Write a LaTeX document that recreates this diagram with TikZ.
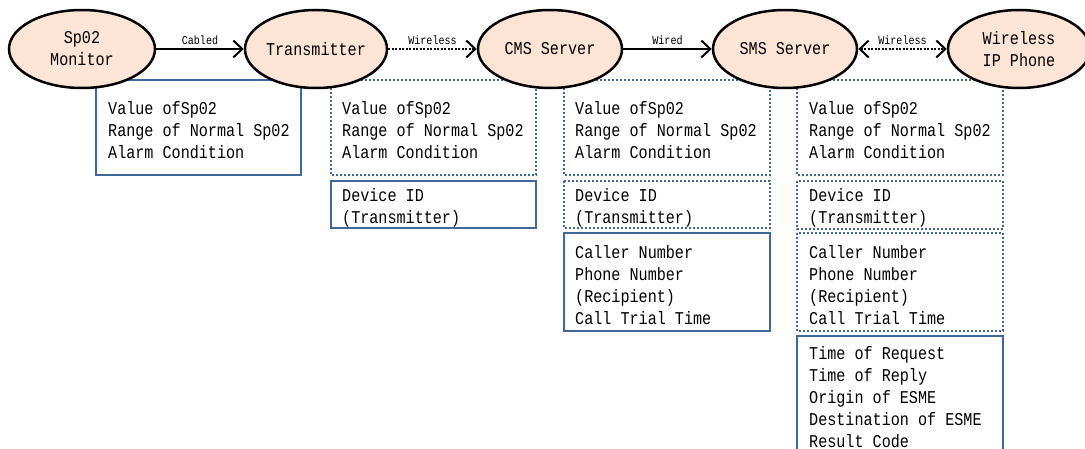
\documentclass[tikz,border=0pt]{standalone}
\usepackage{fontspec}
\setmonofont[FakeStretch=0.84]{Liberation Mono}
\usetikzlibrary{arrows.meta,shapes.geometric}
\definecolor{peach}{HTML}{FCE4D6}
\definecolor{boxblue}{HTML}{41689A}
\tikzset{
  barbtip/.tip={Straight Barb[length=9pt,width=17pt,line width=2pt]},
  ell/.style={ellipse, draw=black, line width=2.5pt, fill=peach, inner sep=0pt,
              minimum width=#1, minimum height=78pt, align=center,
              font=\ttfamily\fontsize{18}{22}\selectfont},
  solidbox/.style={draw=boxblue, line width=2pt},
  dotbox/.style={draw=boxblue, line width=2pt, dash pattern=on 2pt off 2pt},
  txt/.style={anchor=base west, inner sep=0pt, align=left,
              font=\ttfamily\fontsize{18}{22}\selectfont},
  link/.style={line width=2.5pt, -barbtip},
  twolink/.style={line width=2.5pt, barbtip-barbtip},
  dotlink/.style={dash pattern=on 2pt off 1.5pt},
  lbl/.style={above, inner sep=3pt, font=\ttfamily\fontsize{12}{14}\selectfont}
}
\begin{document}
\begin{tikzpicture}[x=1pt, y=-1pt]
\useasboundingbox (0,0) rectangle (1085,449);

% data boxes under each device
\draw[solidbox] (96,80) rectangle (301,175) coordinate (b1);
\draw[dotbox]   (331,80) rectangle (536,175) coordinate (b2a);
\draw[solidbox] (331,181) rectangle (536,228) coordinate (b2b);
\draw[dotbox]   (564,80) rectangle (770,175) coordinate (b3a);
\draw[dotbox]   (564,181) rectangle (770,228) coordinate (b3b);
\draw[solidbox] (564,233) rectangle (770,331) coordinate (b3c);
\draw[dotbox]   (797,80) rectangle (1003,175) coordinate (b4a);
\draw[dotbox]   (797,181) rectangle (1003,229) coordinate (b4b);
\draw[dotbox]   (797,233) rectangle (1003,331) coordinate (b4c);
\draw[solidbox] (797,336) rectangle (1003,470) coordinate (b4d);

% box contents (anchored at the baseline of the last line)
\node[txt] (t1)  at (108,159) {Value ofSp02\\Range of Normal Sp02\\Alarm Condition};
\node[txt] (t2a) at (342,159) {Value ofSp02\\Range of Normal Sp02\\Alarm Condition};
\node[txt] (t2b) at (342,224) {Device ID\\(Transmitter)};
\node[txt] (t3a) at (575,159) {Value ofSp02\\Range of Normal Sp02\\Alarm Condition};
\node[txt] (t3b) at (575,224) {Device ID\\(Transmitter)};
\node[txt] (t3c) at (575,324) {Caller Number\\Phone Number\\(Recipient)\\Call Trial Time};
\node[txt] (t4a) at (809,159) {Value ofSp02\\Range of Normal Sp02\\Alarm Condition};
\node[txt] (t4b) at (809,224) {Device ID\\(Transmitter)};
\node[txt] (t4c) at (809,324) {Caller Number\\Phone Number\\(Recipient)\\Call Trial Time};
\node[txt] (t4d) at (809,447) {Time of Request\\Time of Reply\\Origin of ESME\\Destination of ESME\\Result Code};

% devices
\node[ell=146pt] (mon) at (82,49)   {Sp02\\Monitor};
\node[ell=142pt] (tx)  at (316,49)  {Transmitter};
\node[ell=144pt] (cms) at (550,49)  {CMS Server};
\node[ell=144pt] (sms) at (785,49)  {SMS Server};
\node[ell=142pt] (ph)  at (1019,49) {Wireless\\IP Phone};

% links
\draw[link] (mon) -- node[lbl] {Cabled} (tx);
\draw[link, dotlink] (tx) -- node[lbl] {Wireless} (cms);
\draw[link] (cms) -- node[lbl] {Wired} (sms);
\draw[twolink, dotlink] (sms) -- node[lbl] {Wireless} (ph);
\end{tikzpicture}
\end{document}
